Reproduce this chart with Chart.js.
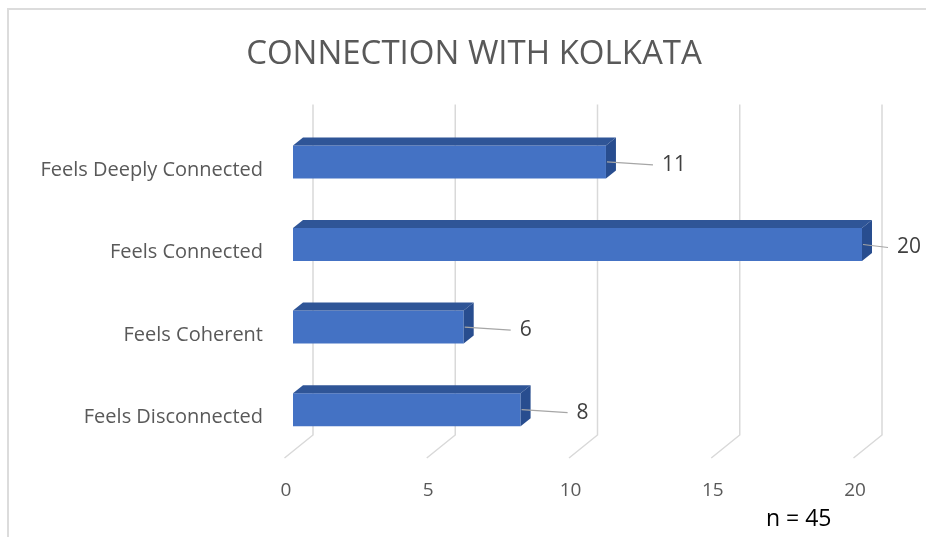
<!DOCTYPE html>
<html>
<head>
<meta charset="utf-8">
<script src="https://cdn.jsdelivr.net/npm/chart.js@4.4.1/dist/chart.umd.min.js"></script>
<style>
  html, body { margin: 0; padding: 0; background: #fff; }
  #wrap { width: 926px; height: 537px; position: relative; }
</style>
</head>
<body>
<div id="wrap"><canvas id="chart" width="926" height="537"></canvas></div>
<script>
// connection with kolkata - 3d bar look
const categories = ['Feels Deeply Connected', 'Feels Connected', 'Feels Coherent', 'Feels Disconnected'];
const counts = [11, 20, 6, 8];
const xTicks = [0, 5, 10, 15, 20];
const sampleNote = 'n = 45';

const DX = 10, DY = 8; // bar depth
const WALL_DX = 20, WALL_DY = 16; // back wall offset
const FLOOR_DX = 8.5, FLOOR_DY = 7;

const frame3d = {
    id: 'frame3d',
    beforeDraw(chart) {
        const ctx = chart.ctx;
        ctx.save();
        ctx.strokeStyle = '#dcdcdc';
        ctx.lineWidth = 2;
        ctx.beginPath();
        ctx.moveTo(8, 540);
        ctx.lineTo(8, 9);
        ctx.lineTo(930, 9);
        ctx.stroke();
        ctx.restore();
    },
    beforeDatasetsDraw(chart) {
        const ctx = chart.ctx;
        const xs = chart.scales.x;
        const area = chart.chartArea;
        ctx.save();
        ctx.strokeStyle = '#d9d9d9';
        ctx.lineWidth = 1.5;
        xTicks.forEach(v => {
            const px = xs.getPixelForValue(v);
            ctx.beginPath();
            ctx.moveTo(px + WALL_DX, area.top - WALL_DY);
            ctx.lineTo(px + WALL_DX, area.bottom - WALL_DY);
            ctx.lineTo(px - FLOOR_DX, area.bottom + FLOOR_DY);
            ctx.stroke();
        });
        ctx.restore();
    },
    afterDatasetsDraw(chart) {
        const ctx = chart.ctx;
        const meta = chart.getDatasetMeta(0);
        const area = chart.chartArea;
        ctx.save();
        meta.data.forEach((bar, i) => {
            const top = bar.y - bar.height / 2;
            const bot = bar.y + bar.height / 2;
            // top face
            ctx.fillStyle = '#2f5597';
            ctx.beginPath();
            ctx.moveTo(bar.base, top);
            ctx.lineTo(bar.x, top);
            ctx.lineTo(bar.x + DX, top - DY);
            ctx.lineTo(bar.base + DX, top - DY);
            ctx.closePath();
            ctx.fill();
            // side face
            ctx.fillStyle = '#284d8f';
            ctx.beginPath();
            ctx.moveTo(bar.x, top);
            ctx.lineTo(bar.x + DX, top - DY);
            ctx.lineTo(bar.x + DX, bot - DY);
            ctx.lineTo(bar.x, bot);
            ctx.closePath();
            ctx.fill();

            // value label with leader line
            const lx = Math.min(bar.x + 56, area.right + 35);
            const ly = bar.y + 3;
            ctx.strokeStyle = '#a6a6a6';
            ctx.lineWidth = 1.2;
            ctx.beginPath();
            ctx.moveTo(bar.x + 1, bar.y);
            ctx.lineTo(lx - 9, ly);
            ctx.stroke();
            ctx.fillStyle = '#404040';
            ctx.font = '21px "Open Sans"';
            ctx.textAlign = 'left';
            ctx.textBaseline = 'middle';
            ctx.fillText(String(counts[i]), lx, ly);
        });
        ctx.fillStyle = '#000';
        ctx.font = '23px "Open Sans"';
        ctx.textAlign = 'left';
        ctx.textBaseline = 'middle';
        ctx.fillText(sampleNote, 766, 519);
        ctx.restore();
    }
};

new Chart(document.getElementById('chart'), {
    type: 'bar',
    data: {
        labels: categories,
        datasets: [{
            data: counts,
            backgroundColor: '#4472c4',
            borderWidth: 0,
            barPercentage: 0.8,
            categoryPercentage: 0.5
        }]
    },
    options: {
        indexAxis: 'y',
        responsive: false,
        animation: false,
        devicePixelRatio: 1,
        layout: {
            padding: { left: 22, right: 0, top: 0, bottom: 37 }
        },
        scales: {
            x: {
                min: 0,
                max: 20,
                border: { display: false },
                grid: { display: false, drawTicks: false },
                afterBuildTicks(scale) {
                    scale.ticks = xTicks.map(v => ({ value: v }));
                },
                afterFit(scale) { scale.height = 49; },
                ticks: {
                    padding: 28,
                    labelOffset: -7,
                    color: '#595959',
                    font: { family: 'Open Sans', size: 19 }
                }
            },
            y: {
                border: { display: false },
                grid: { display: false, drawTicks: false },
                afterFit(scale) { scale.width = 271; },
                ticks: {
                    padding: 30,
                    labelOffset: 8,
                    color: '#595959',
                    font: { family: 'Open Sans', size: 20 }
                }
            },
            // empty right-hand gutter for the data labels
            yRight: {
                type: 'category',
                position: 'right',
                border: { display: false },
                grid: { display: false, drawTicks: false },
                ticks: { display: false },
                afterFit(scale) { scale.width = 64; }
            }
        },
        plugins: {
            legend: { display: false },
            tooltip: { enabled: false },
            title: {
                display: true,
                text: 'CONNECTION WITH KOLKATA',
                color: '#595959',
                font: { family: 'Open Sans', size: 33, weight: 'normal' },
                padding: { top: 35, bottom: 46 }
            }
        }
    },
    plugins: [frame3d]
});
</script>
</body>
</html>
